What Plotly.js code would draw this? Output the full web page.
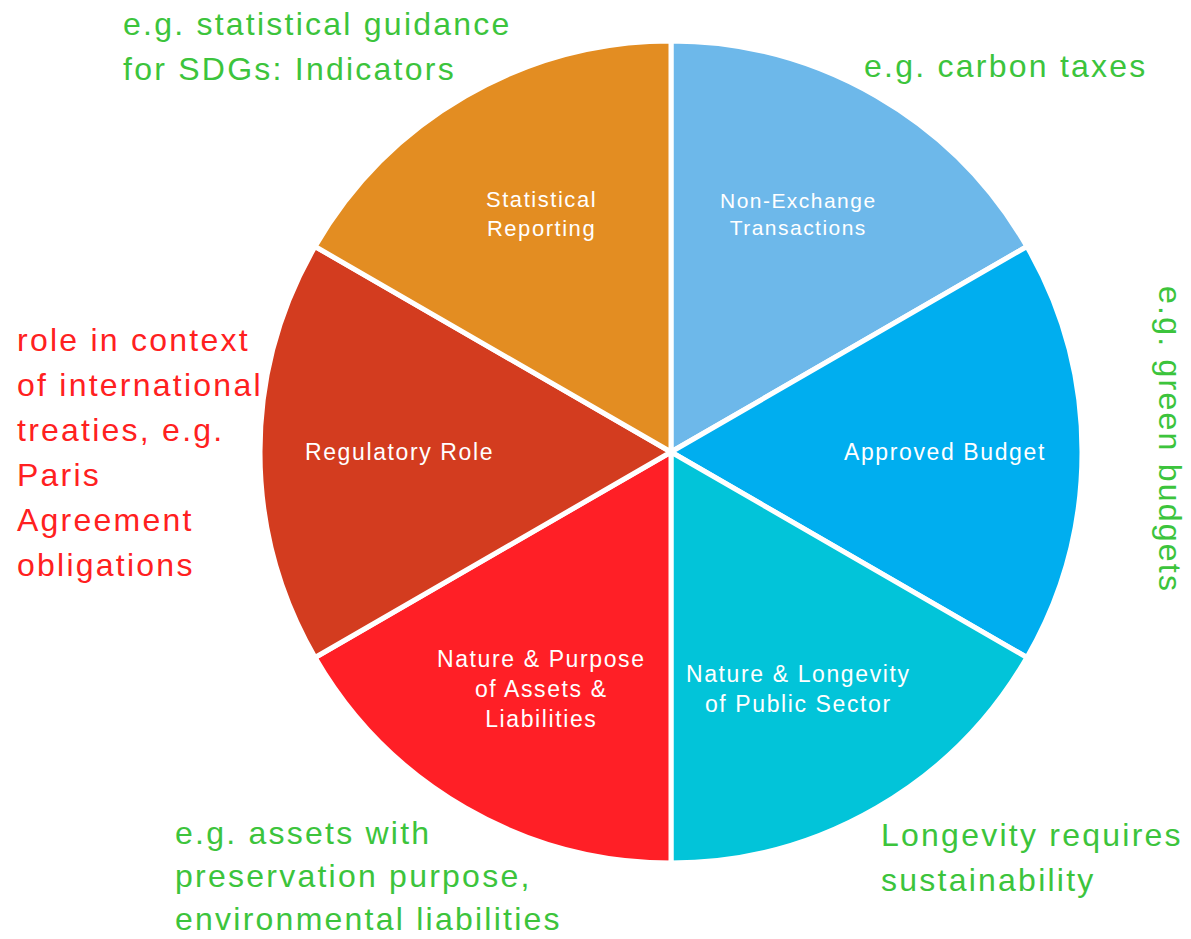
<!DOCTYPE html>
<html><head><meta charset="utf-8">
<script src="https://cdn.plot.ly/plotly-3.0.1.min.js"></script>
<style>html,body{margin:0;padding:0;background:#fff}#chart{width:1191px;height:939px}
.annotation-text{letter-spacing:0.07em}</style>
</head><body><div id="chart"></div>
<script>
const categories = ["Non-Exchange Transactions","Approved Budget","Nature & Longevity of Public Sector","Nature & Purpose of Assets & Liabilities","Regulatory Role","Statistical Reporting"];
const sliceLabels = ["Non-Exchange<br>Transactions","Approved Budget","Nature & Longevity<br>of Public Sector","Nature & Purpose<br>of Assets &<br>Liabilities","Regulatory Role","Statistical<br>Reporting"];
const values = [1,1,1,1,1,1];
const colors = ["#6DB8EA","#00AEEF","#02C4D9","#FF1F26","#D33C1F","#E38D22"];
const noteTexts = [
  "e.g. statistical guidance<br>for SDGs: Indicators",
  "e.g. carbon taxes",
  "e.g. green budgets",
  "Longevity requires<br>sustainability",
  "e.g. assets with<br>preservation purpose,<br>environmental liabilities",
  "role in context<br>of international<br>treaties, e.g.<br>Paris<br>Agreement<br>obligations"
];
const noteColors = ["#3CC43C","#3CC43C","#3CC43C","#3CC43C","#3CC43C","#FF2020"];

const W = 1191, H = 939;
const px = x => x / W, py = y => 1 - y / H;

const trace = {
  type: "pie",
  labels: categories,
  values: values,
  sort: false,
  direction: "clockwise",
  rotation: 0,
  textinfo: "none",
  hoverinfo: "label",
  marker: {colors: colors, line: {color: "#ffffff", width: 5}},
  domain: {x: [px(260), px(1082)], y: [py(863), py(41)]},
  showlegend: false
};

const F = "Liberation Sans, Arial, sans-serif";
const sliceAnn = [
  {x:798, y:214, size:21},
  {x:945, y:452, size:23},
  {x:798, y:689, size:23},
  {x:541, y:689, size:23},
  {x:399, y:452, size:23},
  {x:541, y:214, size:22}
].map((p,i)=>({x:px(p.x), y:py(p.y), xref:"paper", yref:"paper", text:sliceLabels[i], showarrow:false,
  font:{family:F, size:p.size, color:"#ffffff"}, xanchor:"center", yanchor:"middle", align:"center"}));

// first-line centre position of each note and its line spacing
const notePos = [
  {x:122, y:24, rot:0, gap:45},
  {x:863, y:66, rot:0, gap:45},
  {x:1170, y:439, rot:90, gap:45},
  {x:880, y:835, rot:0, gap:45},
  {x:174, y:833, rot:0, gap:43},
  {x:16, y:340, rot:0, gap:45}
];
const noteAnn = [];
noteTexts.forEach((t,i)=>{
  const p = notePos[i];
  if (p.rot) {
    noteAnn.push({x:px(p.x), y:py(p.y), xref:"paper", yref:"paper", text:t, showarrow:false,
      textangle:p.rot, xanchor:"center", yanchor:"middle", font:{family:F, size:32, color:noteColors[i]}});
  } else {
    t.split("<br>").forEach((line,k)=>{
      noteAnn.push({x:px(p.x), y:py(p.y + p.gap*k), xref:"paper", yref:"paper", text:line, showarrow:false,
        align:"left", xanchor:"left", yanchor:"middle", borderpad:0,
        font:{family:F, size:32, color:noteColors[i]}});
    });
  }
});

const layout = {
  width: W, height: H,
  margin: {l:0, r:0, t:0, b:0},
  paper_bgcolor: "#ffffff",
  plot_bgcolor: "#ffffff",
  annotations: sliceAnn.concat(noteAnn),
  showlegend: false
};
Plotly.newPlot("chart", [trace], layout, {displayModeBar:false, staticPlot:true});
</script></body></html>
